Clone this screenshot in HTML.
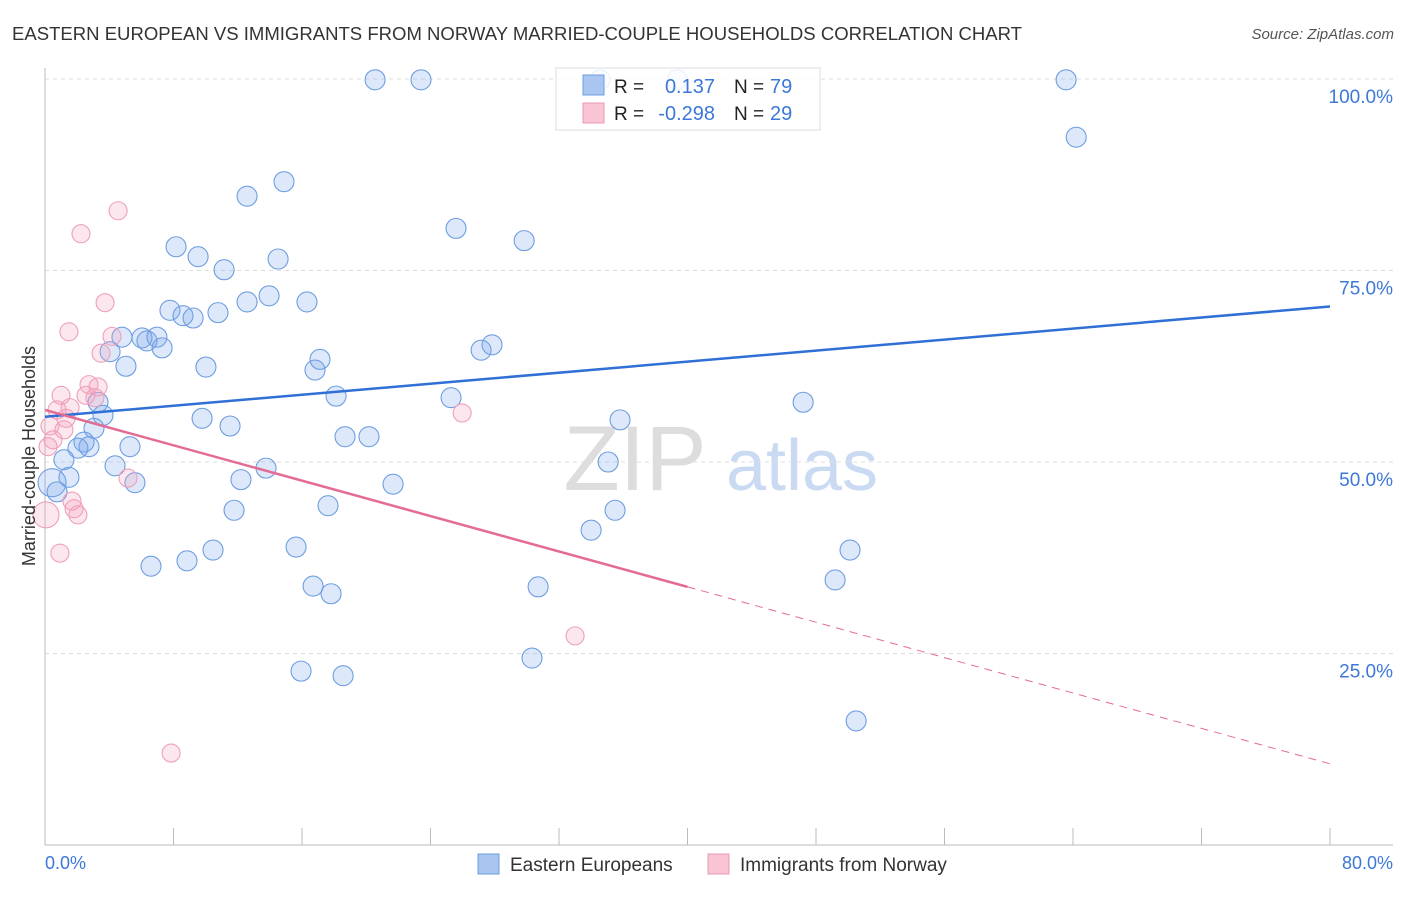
<!DOCTYPE html>
<html><head><meta charset="utf-8"><style>
body{margin:0;background:#fff;font-family:"Liberation Sans",sans-serif;}
svg text{font-family:"Liberation Sans",sans-serif;}
</style></head><body>
<svg id="chart" width="1406" height="892" viewBox="0 0 1406 892">
<text x="12" y="40" font-size="18" fill="#333" textLength="1010" lengthAdjust="spacingAndGlyphs">EASTERN EUROPEAN VS IMMIGRANTS FROM NORWAY MARRIED-COUPLE HOUSEHOLDS CORRELATION CHART</text>
<text x="1394" y="39" font-size="15" fill="#555" font-style="italic" text-anchor="end">Source: ZipAtlas.com</text>
<g>
<text x="635" y="490" font-size="92" font-family="Liberation Serif,serif" fill="#ddd" text-anchor="middle">ZIP</text>
<text x="802" y="490" font-size="72" fill="#c9daf2" text-anchor="middle">atlas</text>
</g>
<g id="grid"></g>
<g id="axes"></g>
<g id="pts"></g>
<g id="trend"></g>
<text transform="translate(35,456) rotate(-90)" font-size="18" fill="#333" text-anchor="middle">Married-couple Households</text>
<text x="45" y="869" font-size="18" fill="#3c78d8">0.0%</text>
<text x="1393" y="869" font-size="18" fill="#3c78d8" text-anchor="end">80.0%</text>
<g>
<rect x="556" y="68" width="264" height="62" fill="#fff" fill-opacity="0.85" stroke="#ddd"/>
<rect x="583" y="75" width="21" height="20" fill="#a9c6f0" stroke="#6c9ce0"/>
<rect x="583" y="103" width="21" height="20" fill="#f9c5d5" stroke="#ec98b3"/>
<text x="614" y="93" font-size="19" fill="#222">R =</text>
<text x="715" y="93" font-size="20" fill="#3c78d8" text-anchor="end">0.137</text>
<text x="734" y="93" font-size="19" fill="#222">N =</text>
<text x="770" y="93" font-size="20" fill="#3c78d8">79</text>
<text x="614" y="120" font-size="19" fill="#222">R =</text>
<text x="715" y="120" font-size="20" fill="#3c78d8" text-anchor="end">-0.298</text>
<text x="734" y="120" font-size="19" fill="#222">N =</text>
<text x="770" y="120" font-size="20" fill="#3c78d8">29</text>
</g>
<g>
<rect x="478" y="854" width="21" height="20" fill="#a9c6f0" stroke="#6c9ce0"/>
<text x="510" y="871" font-size="19" fill="#333">Eastern Europeans</text>
<rect x="708" y="854" width="21" height="20" fill="#f9c5d5" stroke="#ec98b3"/>
<text x="740" y="871" font-size="19" fill="#333">Immigrants from Norway</text>
</g>
</svg>
<script>
const yTicks=[25,50,75,100];
const yTickLabels=["25.0%","50.0%","75.0%","100.0%"];
const blueX=[20.55,23.41,34.56,39.35,63.57,64.2,14.88,12.58,25.59,29.83,8.16,9.53,14.51,11.15,13.95,12.58,16.31,7.78,8.59,9.22,10.77,4.79,6.04,6.35,6.97,7.29,4.05,27.83,27.15,17.12,16.81,10.02,5.04,18.12,25.28,47.2,3.3,3.61,9.78,35.8,11.52,3.05,18.68,20.17,2.43,2.74,2.05,5.29,1.18,35.06,13.76,4.36,1.49,12.2,5.6,21.67,0.44,0.75,17.62,11.77,35.49,34.0,10.46,15.63,50.12,8.84,6.6,49.19,16.69,30.7,17.81,30.32,15.94,18.56,50.5];
const blueY=[99.9,99.9,99.9,99.9,99.9,92.4,86.6,84.7,80.5,78.9,78.1,76.8,76.5,75.1,71.7,70.9,70.9,69.8,69.1,68.8,69.5,66.3,66.2,65.8,66.3,64.9,64.4,65.3,64.6,63.4,62.0,62.4,62.5,58.6,58.4,57.8,57.8,56.1,55.7,55.5,54.7,54.4,53.3,53.3,52.6,52.0,51.8,52.0,50.3,50.0,49.2,49.5,48.0,47.7,47.3,47.1,47.3,46.1,44.3,43.7,43.7,41.1,38.5,38.9,38.5,37.1,36.4,34.6,33.8,33.7,32.8,24.4,22.7,22.1,16.2];
const pinkX=[4.55,2.24,3.74,1.49,4.17,3.49,2.74,3.3,1.0,2.55,3.11,25.97,0.75,1.56,1.31,0.31,1.18,0.5,0.19,5.17,1.68,1.81,2.05,0.06,0.93,33.0,7.85];
const pinkY=[82.8,79.8,70.8,67.0,66.4,64.2,60.1,59.8,58.7,58.7,58.4,56.4,56.8,57.1,55.7,54.7,54.2,52.9,52.0,47.9,44.9,43.9,43.1,43.1,38.1,27.3,12.0];
const blueTrend=[55.9,70.3];
const pinkTrend=[56.8,10.6];
const xTicks=[0,8,16,24,32,40,48,56,64,72,80];

const NS="http://www.w3.org/2000/svg";
const X=v=>45+v/80*1285;
const Y=v=>845-v/100*766;
function mk(tag,attrs,parent){const e=document.createElementNS(NS,tag);for(const k in attrs)e.setAttribute(k,attrs[k]);document.getElementById(parent).appendChild(e);return e;}

yTicks.forEach((t,i)=>{
  const l=mk('line',{x1:45,x2:1393,y1:Y(t),y2:Y(t),stroke:'#ddd','stroke-dasharray':'4,4'},'grid');
  
  
  const tx=mk('text',{x:1393,y:Y(t)+24,'font-size':19,fill:'#3c78d8','text-anchor':'end'},'grid');
  tx.textContent=yTickLabels[i];
  
  
});
const ya=mk('line',{x1:45,x2:45,y1:68,y2:845,stroke:'#bbb'},'axes');


const xa=mk('line',{x1:45,x2:1393,y1:845,y2:845,stroke:'#bbb'},'axes');


xTicks.forEach(t=>{
  const l=mk('line',{x1:X(t),x2:X(t),y1:828,y2:845,stroke:'#bbb'},'axes');
  
  
});
blueX.forEach((v,i)=>{
  const r=(i==56)?14:10;
  const c=mk('circle',{cx:X(v),cy:Y(blueY[i]),r:r,fill:'rgba(120,165,235,0.25)',stroke:'#6e9ee0','stroke-width':1.1},'pts');
  
  
});
pinkX.forEach((v,i)=>{
  const r=(i==23)?13:9;
  const c=mk('circle',{cx:X(v),cy:Y(pinkY[i]),r:r,fill:'rgba(245,160,188,0.25)',stroke:'#ef9fba','stroke-width':1.1},'pts');
  
  
});
const bt=mk('line',{x1:X(0),y1:Y(blueTrend[0]),x2:X(80),y2:Y(blueTrend[1]),stroke:'#2f6fd6','stroke-width':2.5},'trend');


const pm=pinkTrend[0]+(pinkTrend[1]-pinkTrend[0])*0.5;
const ps=mk('line',{x1:X(0),y1:Y(pinkTrend[0]),x2:X(40),y2:Y(pm),stroke:'#e46b96','stroke-width':2.5},'trend');


const pd=mk('line',{x1:X(40),y1:Y(pm),x2:X(80),y2:Y(pinkTrend[1]),stroke:'#e46b96','stroke-width':1,'stroke-dasharray':'8,6'},'trend');


</script>
</body></html>
